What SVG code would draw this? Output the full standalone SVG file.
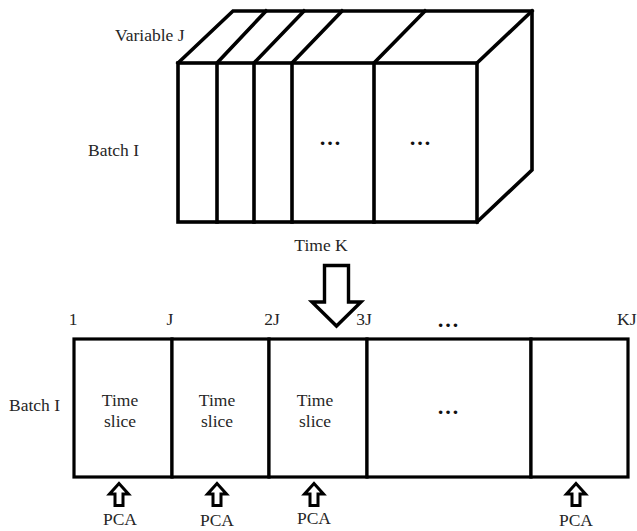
<svg xmlns="http://www.w3.org/2000/svg" width="637" height="531" viewBox="0 0 637 531">
  <style>
    .lbl { font-size: 17.5px; fill: #262626; }
    .mid { text-anchor: middle; }
    .dots { font-size: 22px; font-weight: bold; fill: #111; text-anchor: middle; }
    .edge { fill: none; stroke: #000; stroke-width: 3.6; stroke-linejoin: miter; stroke-linecap: square; }
    .cell { fill: #fff; stroke: #000; stroke-width: 3.2; }
    .hollow { fill: #fff; stroke: #000; stroke-linejoin: miter; }
    .shade { stroke: #9a9a9a; stroke-width: 3; opacity: 0.55; filter: url(#soft); }
  </style>
  <defs>
    <filter id="soft" x="-2" y="-1" width="5" height="3">
      <feGaussianBlur stdDeviation="1.2"/>
    </filter>
    <!-- small upward outline arrow used under each slice -->
    <path id="upArrow" d="M0,-11.5 L9.5,-1 L4,-1 L4,10.5 L-4,10.5 L-4,-1 L-9.5,-1 Z"/>
  </defs>

  <rect width="637" height="531" fill="#fff"/>

  <g font-family="'Liberation Serif', serif">
  <!-- three-way data block: batch x variable x time -->
  <g id="cube">
    <!-- soft shadows under the slice dividers -->
    <g>
      <line class="shade" x1="217" y1="225" x2="217" y2="232"/>
      <line class="shade" x1="254" y1="225" x2="254" y2="232"/>
      <line class="shade" x1="292" y1="225" x2="292" y2="232"/>
      <line class="shade" x1="374" y1="225" x2="374" y2="232"/>
    </g>
    <!-- top and right faces -->
    <path class="edge" d="M178,63 L233,11 L532,11 L532,170 L477,222"/>
    <line class="edge" x1="477" y1="63" x2="532" y2="11"/>
    <!-- front face -->
    <rect class="edge" x="178" y="63" width="299" height="159"/>
    <!-- slice dividers on front and top -->
    <path class="edge" d="M217,222 L217,63 L266,11"/>
    <path class="edge" d="M254,222 L254,63 L304,11"/>
    <path class="edge" d="M292,222 L292,63 L342,11"/>
    <path class="edge" d="M374,222 L374,63 L425,11"/>
    <text class="dots" x="330" y="145">…</text>
    <text class="dots" x="420" y="145">…</text>
  </g>

  <g id="cube-labels">
    <text class="lbl" x="115" y="41">Variable J</text>
    <text class="lbl" x="88" y="156">Batch I</text>
    <text class="lbl mid" x="321" y="251">Time K</text>
  </g>

  <!-- unfolded matrix: time slices side by side -->
  <g id="unfolded">
    <g>
      <line class="shade" x1="172" y1="479" x2="172" y2="486"/>
      <line class="shade" x1="269" y1="479" x2="269" y2="486"/>
      <line class="shade" x1="367" y1="479" x2="367" y2="486"/>
      <line class="shade" x1="531" y1="479" x2="531" y2="486"/>
    </g>
    <g id="slice-1">
      <rect class="cell" x="74" y="339" width="98" height="138"/>
      <text class="lbl mid" x="120" y="406">Time</text>
      <text class="lbl mid" x="120" y="427">slice</text>
    </g>
    <g id="slice-2">
      <rect class="cell" x="172" y="339" width="97" height="138"/>
      <text class="lbl mid" x="217" y="406">Time</text>
      <text class="lbl mid" x="217" y="427">slice</text>
    </g>
    <g id="slice-3">
      <rect class="cell" x="269" y="339" width="98" height="138"/>
      <text class="lbl mid" x="315" y="406">Time</text>
      <text class="lbl mid" x="315" y="427">slice</text>
    </g>
    <g id="slice-more">
      <rect class="cell" x="367" y="339" width="164" height="138"/>
      <text class="dots" x="448" y="414">…</text>
    </g>
    <g id="slice-last">
      <rect class="cell" x="531" y="339" width="97" height="138"/>
    </g>
  </g>

  <g id="axis-labels">
    <text class="lbl mid" x="73" y="325">1</text>
    <text class="lbl mid" x="170" y="325">J</text>
    <text class="lbl mid" x="272" y="325">2J</text>
    <text class="lbl mid" x="364" y="325">3J</text>
    <text class="dots" x="448" y="327">…</text>
    <text class="lbl" x="617" y="325">KJ</text>
    <text class="lbl" x="9" y="411">Batch I</text>
  </g>

  <!-- arrows -->
  <g id="connectors">
    <path class="hollow" stroke-width="3.4" d="M324.5,265.5 L348.5,265.5 L348.5,302 L361,302 L336.5,326 L312,302 L324.5,302 Z"/>
    <use href="#upArrow" class="hollow" stroke-width="3" x="119" y="495"/>
    <use href="#upArrow" class="hollow" stroke-width="3" x="217" y="495"/>
    <use href="#upArrow" class="hollow" stroke-width="3" x="314" y="495"/>
    <use href="#upArrow" class="hollow" stroke-width="3" x="576" y="495"/>
  </g>

  <g id="pca-labels">
    <text class="lbl mid" x="120" y="525">PCA</text>
    <text class="lbl mid" x="217" y="526">PCA</text>
    <text class="lbl mid" x="314" y="524">PCA</text>
    <text class="lbl mid" x="576" y="526">PCA</text>
  </g>
  </g>
</svg>
